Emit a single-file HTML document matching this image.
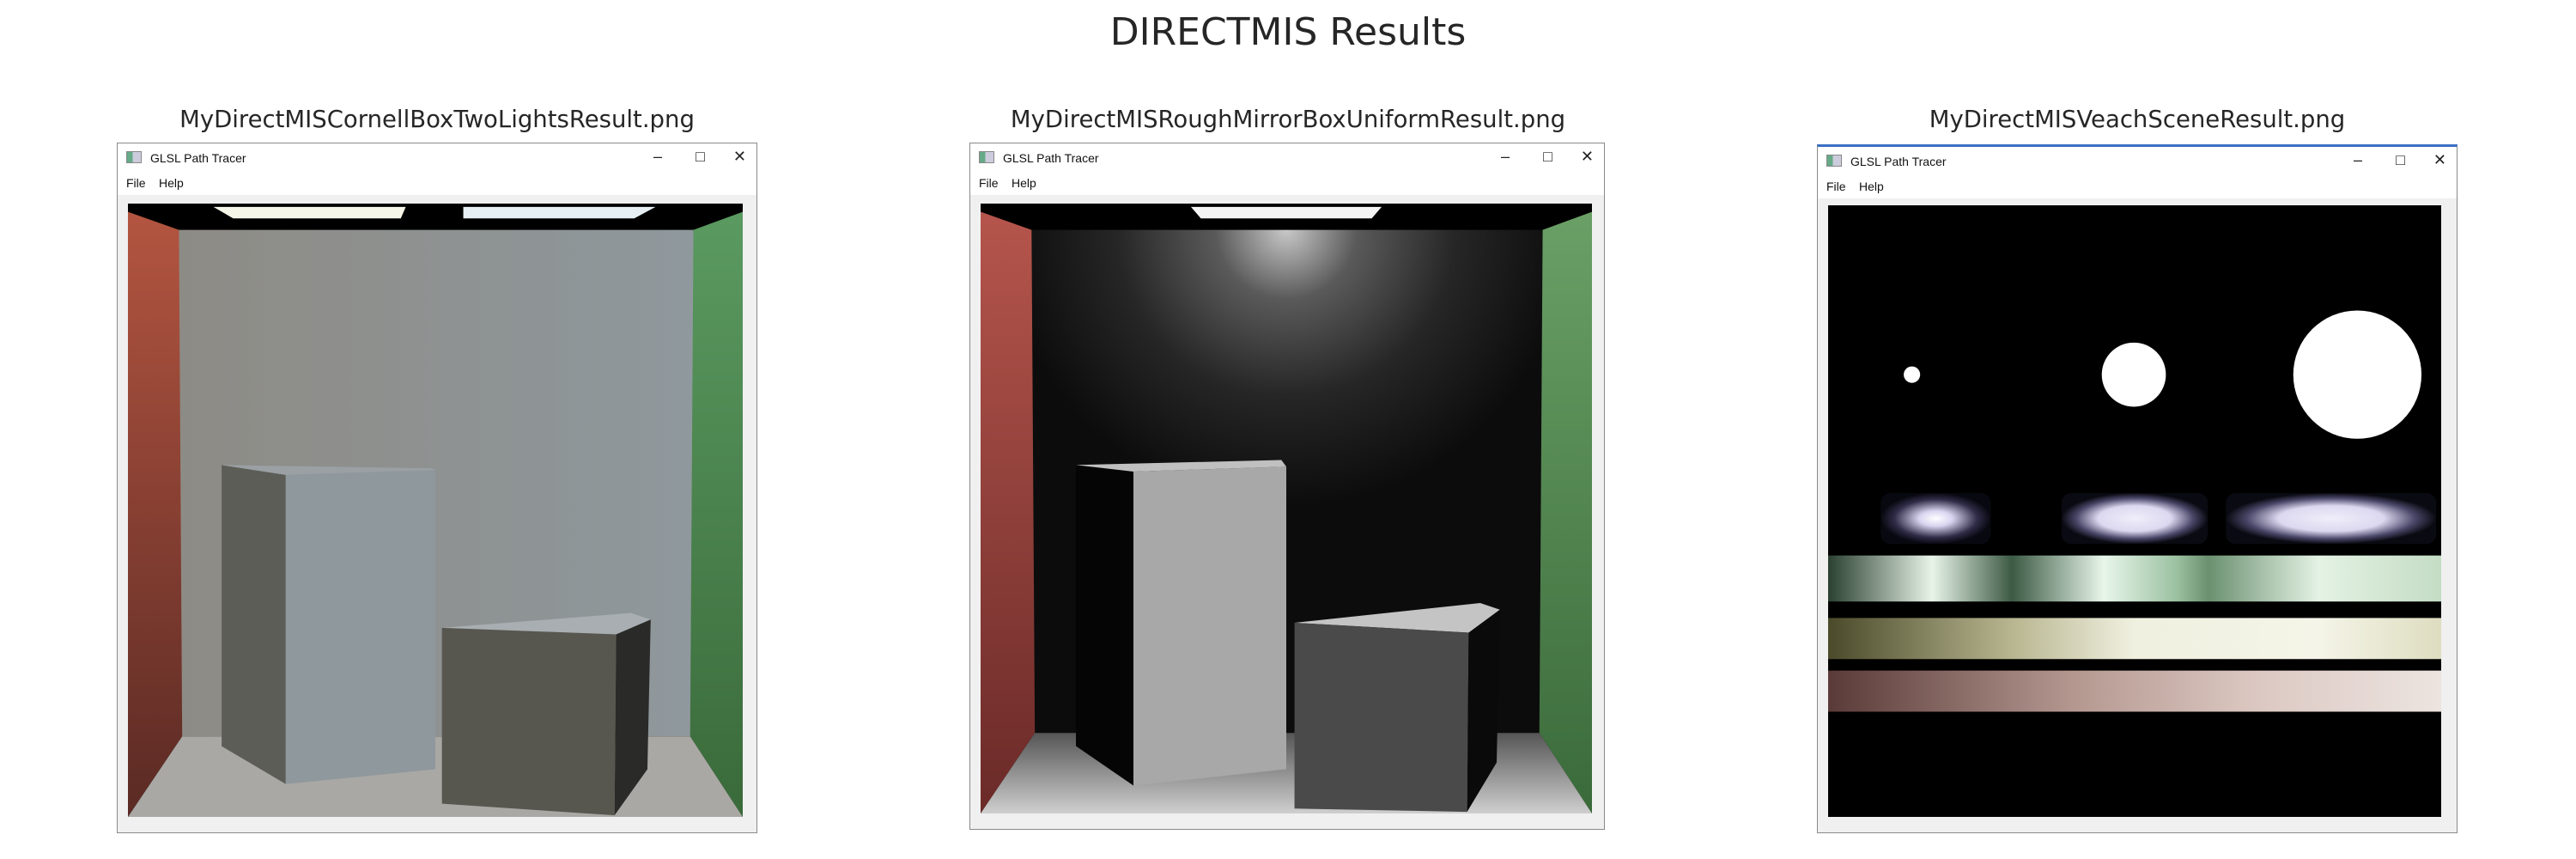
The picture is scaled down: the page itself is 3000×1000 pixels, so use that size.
<!DOCTYPE html>
<html><head><meta charset="utf-8"><style>
body{margin:0;width:3000px;height:1000px;background:#fff;position:relative;overflow:hidden;font-family:"Liberation Sans","DejaVu Sans",sans-serif}
.t{position:absolute;color:#262626;text-align:center;white-space:nowrap;font-family:"DejaVu Sans","Liberation Sans",sans-serif}
.win{position:absolute;background:#f0f0f0;border:1px solid #8a8a8a;box-sizing:border-box}
.tb{position:absolute;left:0;right:0;top:0;height:33px;background:#fff}
.mn{position:absolute;left:0;right:0;top:33px;height:27px;background:#fff;font-size:14px;color:#111}
.tt{position:absolute;left:38px;top:9px;font-size:14px;color:#111}
.ic{position:absolute;left:10px;top:9px;width:16px;height:12px;border:1px solid #888;background:linear-gradient(90deg,#6a8 0 40%,#ccd 40%)}
.ctl{position:absolute;top:5px;font-size:18px;color:#222}
svg.r{position:absolute}
</style></head><body>
<div class="t" style="left:0;width:3000px;top:12px;font-size:44px">DIRECTMIS Results</div>

<div class="t" style="left:109px;width:800px;top:123px;font-size:27.5px">MyDirectMISCornellBoxTwoLightsResult.png</div>
<div class="t" style="left:1100px;width:800px;top:123px;font-size:27.5px">MyDirectMISRoughMirrorBoxUniformResult.png</div>
<div class="t" style="left:2089px;width:800px;top:123px;font-size:27.5px">MyDirectMISVeachSceneResult.png</div>

<!-- window 1 -->
<div class="win" style="left:136px;top:166px;width:746px;height:804px">
 <div class="tb"><div class="ic"></div><div class="tt">GLSL Path Tracer</div>
 <div class="ctl" style="right:110px">&#8211;</div><div class="ctl" style="right:60px">&#9633;</div><div class="ctl" style="right:12px">&#10005;</div></div>
 <div class="mn"><span style="position:absolute;left:10px;top:5px">File</span><span style="position:absolute;left:48px;top:5px">Help</span></div>
</div>
<svg class="r" style="left:149px;top:237px" width="716" height="714" viewBox="0 0 374 373" preserveAspectRatio="none">
<defs>
<linearGradient id="bw1" x1="0" y1="0" x2="1" y2="0"><stop offset="0" stop-color="#8d8b85"/><stop offset="1" stop-color="#8f989d"/></linearGradient>
<linearGradient id="rw1" x1="0" y1="0" x2="0" y2="1"><stop offset="0" stop-color="#b35540"/><stop offset="1" stop-color="#5a2a24"/></linearGradient>
<linearGradient id="gw1" x1="0" y1="0" x2="0" y2="1"><stop offset="0" stop-color="#5a9a60"/><stop offset="1" stop-color="#3a6a3a"/></linearGradient>
</defs>
<rect width="374" height="373" fill="#000"/>
<polygon points="29,16 344,16 344,324 29,324" fill="url(#bw1)"/>
<polygon points="0,5 31,16 33,324 0,373" fill="url(#rw1)"/>
<polygon points="374,5 344,16 342,324 374,373" fill="url(#gw1)"/>
<polygon points="0,373 33,324 342,324 374,373" fill="#a9a8a4"/>
<polygon points="52,2 169,2 166,9 64,9" fill="#f5f5e8"/>
<polygon points="204,2 321,2 308,9 204,9" fill="#e6f0f4"/>
<polygon points="57,159 96,165 96,353 57,330" fill="#5d5d58"/>
<polygon points="96,165 187,162 187,344 96,353" fill="#8f989d"/>
<polygon points="57,159 185,161 187,162 96,165" fill="#9aa0a4"/>
<polygon points="191,258 306,249 318,253 297,262" fill="#a8aeb2"/>
<polygon points="191,258 297,262 296,372 191,365" fill="#58574f"/>
<polygon points="297,262 318,253 316,344 296,372" fill="#2a2a28"/>
</svg>

<!-- window 2 -->
<div class="win" style="left:1129px;top:166px;width:740px;height:800px">
 <div class="tb"><div class="ic"></div><div class="tt">GLSL Path Tracer</div>
 <div class="ctl" style="right:110px">&#8211;</div><div class="ctl" style="right:60px">&#9633;</div><div class="ctl" style="right:12px">&#10005;</div></div>
 <div class="mn"><span style="position:absolute;left:10px;top:5px">File</span><span style="position:absolute;left:48px;top:5px">Help</span></div>
</div>
<svg class="r" style="left:1142px;top:237px" width="712" height="710" viewBox="0 0 372 371" preserveAspectRatio="none">
<defs>
<radialGradient id="glow2" cx="0.5" cy="0" r="0.55"><stop offset="0" stop-color="#c8c8c8"/><stop offset="0.25" stop-color="#5a5a5a"/><stop offset="0.6" stop-color="#262626"/><stop offset="1" stop-color="#0c0c0c"/></radialGradient>
<linearGradient id="rw2" x1="0" y1="0" x2="0" y2="1"><stop offset="0" stop-color="#b5554c"/><stop offset="1" stop-color="#6a2a28"/></linearGradient>
<linearGradient id="gw2" x1="0" y1="0" x2="0" y2="1"><stop offset="0" stop-color="#6aa066"/><stop offset="1" stop-color="#3a6a3a"/></linearGradient>
<linearGradient id="fl2" x1="0" y1="0" x2="0" y2="1"><stop offset="0" stop-color="#555"/><stop offset="1" stop-color="#cfcfcf"/></linearGradient>
</defs>
<rect width="372" height="371" fill="#000"/>
<polygon points="30,16 342,16 342,322 30,322" fill="url(#glow2)"/>
<polygon points="0,5 31,16 33,322 0,371" fill="url(#rw2)"/>
<polygon points="372,5 342,16 340,322 372,371" fill="url(#gw2)"/>
<polygon points="0,371 33,322 340,322 372,371" fill="url(#fl2)"/>
<polygon points="128,2 244,2 238,9 134,9" fill="#f4f4f4"/>
<polygon points="58,159 93,163 93,354 58,330" fill="#050505"/>
<polygon points="93,163 186,160 186,344 93,354" fill="#a8a8a8"/>
<polygon points="58,159 183,156 186,160 93,163" fill="#c0c0c0"/>
<polygon points="191,255 304,243 316,247 297,261" fill="#c4c4c4"/>
<polygon points="191,255 297,261 296,370 191,368" fill="#4a4a4a"/>
<polygon points="297,261 316,247 314,340 296,370" fill="#0a0a0a"/>
</svg>

<!-- window 3 -->
<div class="win" style="left:2116px;top:168px;width:746px;height:802px;border-top:3px solid #3a6fc4">
 <div class="tb"><div class="ic"></div><div class="tt">GLSL Path Tracer</div>
 <div class="ctl" style="right:110px">&#8211;</div><div class="ctl" style="right:60px">&#9633;</div><div class="ctl" style="right:12px">&#10005;</div></div>
 <div class="mn"><span style="position:absolute;left:10px;top:5px">File</span><span style="position:absolute;left:48px;top:5px">Help</span></div>
</div>
<svg class="r" style="left:2129px;top:239px" width="714" height="712" viewBox="0 0 373 372" preserveAspectRatio="none">
<defs>
<radialGradient id="s1" cx="0.5" cy="0.5" r="0.5"><stop offset="0" stop-color="#fff"/><stop offset="0.3" stop-color="#d8d4f0"/><stop offset="0.75" stop-color="#302c48"/><stop offset="1" stop-color="#080810"/></radialGradient>
<radialGradient id="s2" cx="0.5" cy="0.5" r="0.5"><stop offset="0" stop-color="#f0eefa"/><stop offset="0.5" stop-color="#dcd8f0"/><stop offset="0.8" stop-color="#4a4668"/><stop offset="1" stop-color="#0a0a12"/></radialGradient>
<linearGradient id="gb" x1="0" y1="0" x2="1" y2="0"><stop offset="0" stop-color="#2a4030"/><stop offset="0.17" stop-color="#e8f4e8"/><stop offset="0.3" stop-color="#3c5a44"/><stop offset="0.45" stop-color="#e8f6ea"/><stop offset="0.57" stop-color="#9ac0a0"/><stop offset="0.62" stop-color="#6a9070"/><stop offset="0.8" stop-color="#e4f2e4"/><stop offset="1" stop-color="#c4dcc4"/></linearGradient>
<linearGradient id="yb" x1="0" y1="0" x2="1" y2="0"><stop offset="0" stop-color="#4a4a2a"/><stop offset="0.3" stop-color="#b8b690"/><stop offset="0.5" stop-color="#f0f0e0"/><stop offset="0.8" stop-color="#f4f4e8"/><stop offset="1" stop-color="#deddc0"/></linearGradient>
<linearGradient id="pb" x1="0" y1="0" x2="1" y2="0"><stop offset="0" stop-color="#5a3a38"/><stop offset="0.4" stop-color="#b49890"/><stop offset="0.7" stop-color="#dcc8c2"/><stop offset="1" stop-color="#ece4e0"/></linearGradient>
</defs>
<rect width="373" height="372" fill="#000"/>
<circle cx="51" cy="103" r="5" fill="#fff"/>
<circle cx="186" cy="103" r="19.5" fill="#fff"/>
<ellipse cx="322" cy="103" rx="39" ry="39" fill="#fff"/>
<rect x="32" y="175" width="67" height="31" rx="6" fill="url(#s1)"/>
<rect x="142" y="175" width="89" height="31" rx="6" fill="url(#s2)"/>
<rect x="242" y="175" width="128" height="31" rx="6" fill="url(#s2)"/>
<rect x="0" y="213" width="373" height="28" fill="url(#gb)"/>
<rect x="0" y="251" width="373" height="25" fill="url(#yb)"/>
<rect x="0" y="283" width="373" height="25" fill="url(#pb)"/>
</svg>
</body></html>
